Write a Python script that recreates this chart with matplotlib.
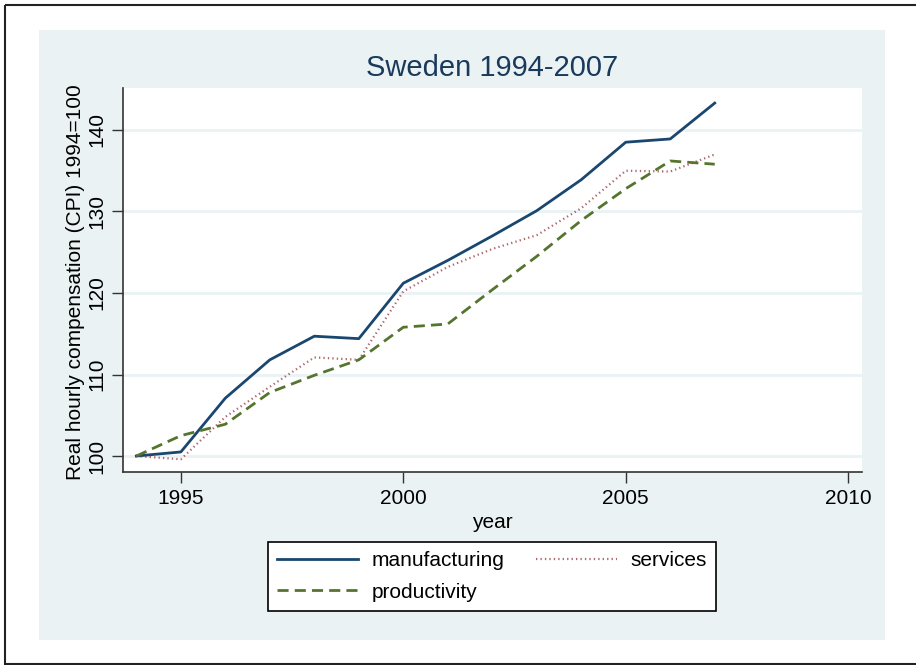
import matplotlib
matplotlib.use("Agg")
import matplotlib.pyplot as plt
from matplotlib.patches import Rectangle

plt.rcParams['font.family'] = ['Liberation Sans', 'DejaVu Sans']

years = list(range(1994, 2008))
manufacturing = [100.0, 100.5, 107.1, 111.8, 114.7, 114.4, 121.2, 124.0, 127.0, 130.1, 133.9, 138.5, 138.9, 143.3]
services = [100.0, 99.6, 104.8, 108.5, 112.1, 111.8, 120.2, 123.2, 125.4, 127.1, 130.4, 135.0, 134.9, 137.0]
productivity = [100.0, 102.5, 103.9, 107.8, 109.9, 111.8, 115.8, 116.2, 120.4, 124.5, 128.9, 132.8, 136.2, 135.8]
xticks = [1995, 2000, 2005, 2010]
yticks = [100, 110, 120, 130, 140]
title = "Sweden 1994-2007"
xlabel = "year"
ylabel = "Real hourly compensation (CPI) 1994=100"

W, H = 916, 665
fig = plt.figure(figsize=(W / 100, H / 100), dpi=100)
fig.patch.set_facecolor('white')

def fx(px):
    return px / W

def fy(py):
    return 1 - py / H

bg = '#eaf2f3'
# background axes for outer border and graph region
bax = fig.add_axes([0, 0, 1, 1], zorder=-5)
bax.set_xlim(0, W)
bax.set_ylim(H, 0)
bax.axis('off')
bax.add_patch(Rectangle((5, 5), 930, 659, fill=False, edgecolor='#222222', linewidth=1.5))
bax.add_patch(Rectangle((39, 30), 846, 610, facecolor=bg, edgecolor='none'))

ax = fig.add_axes([fx(123), fy(472), fx(862) - fx(123), fy(88) - fy(472)], zorder=1)
ax.set_facecolor('white')

c_man = '#1a476f'
c_ser = '#90353b'
c_pro = '#55752f'

l1, = ax.plot(years, manufacturing, color=c_man, lw=2.0, label='manufacturing', zorder=3)
l3, = ax.plot(years, services, color=c_ser, lw=1.6, ls=(0, (0.6, 1.4)), alpha=0.75,
              label='services', zorder=3)
l2, = ax.plot(years, productivity, color=c_pro, lw=2.0, ls=(0, (4, 2.2)), label='productivity', zorder=3)

ax.set_xlim(1993.70, 2010.31)
ax.set_ylim(98.04, 145.15)
ax.set_xticks(xticks)
ax.set_yticks(yticks)
ax.set_xticklabels([str(t) for t in xticks], fontsize=15)
ax.set_yticklabels([str(t) for t in yticks], fontsize=15, rotation=90, va='center')
ax.grid(axis='y', color=bg, lw=2.0, zorder=1)
ax.set_axisbelow(True)
for s in ['top', 'right']:
    ax.spines[s].set_visible(False)
for s in ['left', 'bottom']:
    ax.spines[s].set_color('#333333')
    ax.spines[s].set_linewidth(1.2)
ax.tick_params(axis='both', direction='out', length=8, width=1.0, color='#333333', pad=4)

ax.set_xlabel(xlabel, fontsize=15, labelpad=4)
fig.text(fx(76), fy(282), ylabel, fontsize=15, rotation=90, ha='center', va='center')
fig.text(fx(492), fy(68), title, fontsize=21, color='#1a3a5c', ha='center', va='center')

leg = fig.legend(handles=[l1, l2, l3], labels=['manufacturing', 'productivity', 'services'],
                 ncol=2, loc='center', bbox_to_anchor=(fx(492), fy(576.5)),
                 fontsize=15, frameon=True, fancybox=False, edgecolor='black',
                 handlelength=3.9, columnspacing=1.5, borderpad=0.45, labelspacing=0.6,
                 handletextpad=0.65)
leg.get_frame().set_linewidth(1.2)
leg.get_frame().set_facecolor('white')
leg.get_frame().set_alpha(1)

fig.savefig('out.png', dpi=100, facecolor='white')
